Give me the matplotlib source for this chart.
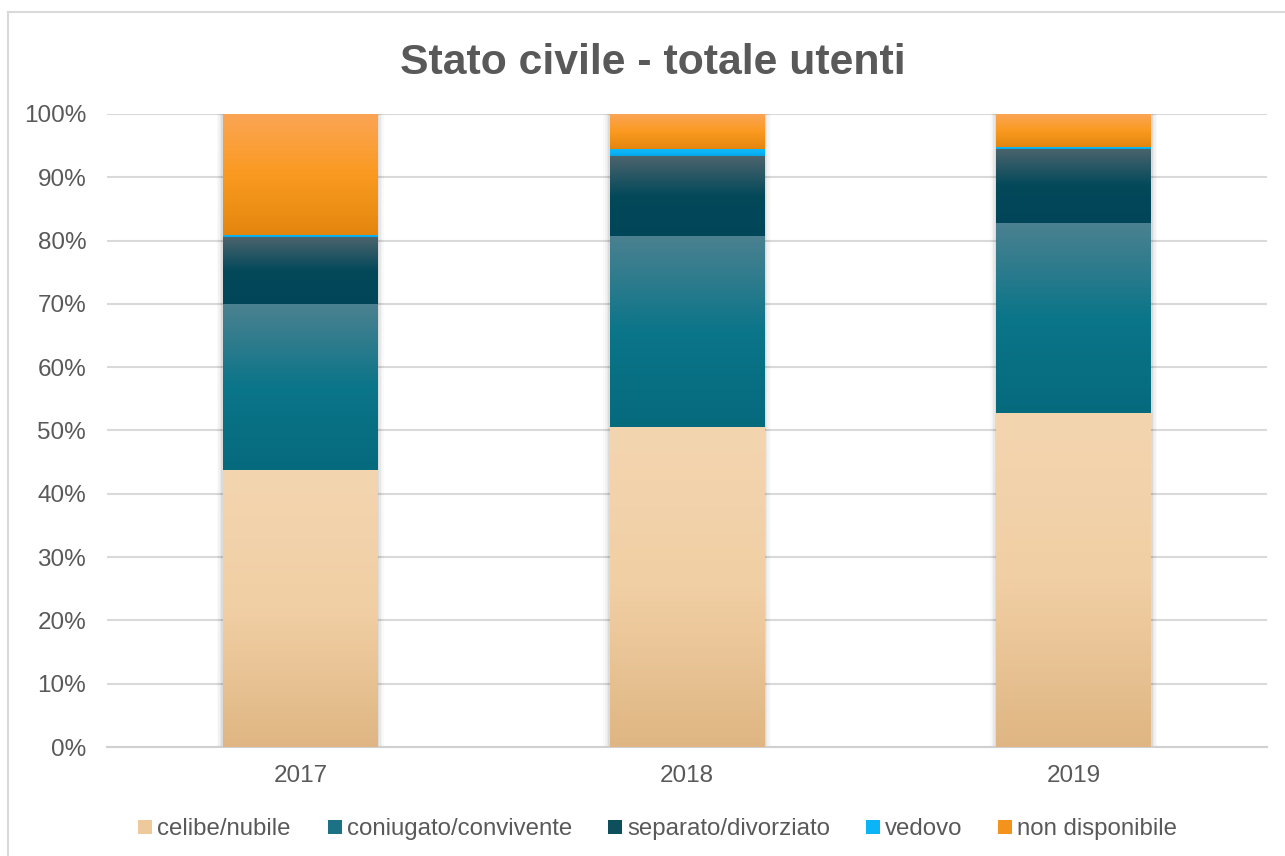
import numpy as np
import matplotlib.pyplot as plt
from matplotlib.colors import LinearSegmentedColormap
from matplotlib.patches import Rectangle
from matplotlib.lines import Line2D

plt.rcParams['font.family'] = ['Liberation Sans', 'DejaVu Sans']

# Data (shares of total users)
years = ['2017', '2018', '2019']
categories = ['celibe/nubile', 'coniugato/convivente', 'separato/divorziato', 'vedovo', 'non disponibile']
celibe = [43.8, 50.6, 52.8]
coniugato = [26.2, 30.2, 30.0]
separato = [10.5, 12.6, 11.7]
vedovo = [0.4, 1.1, 0.3]
non_disp = [19.1, 5.5, 5.2]
series = [celibe, coniugato, separato, vedovo, non_disp]

# Gradient stops (top, middle, bottom) for each category
gradients = [
    ['#F3D5B0', '#F1CFA4', '#DFB683'],
    ['#4B8190', '#0B7589', '#066A7D'],
    ['#4C646D', '#03495A', '#014559'],
    ['#12B8F8', '#0AB4F7', '#07A6E6'],
    ['#FBA555', '#FA9A20', '#E4860E'],
]
legend_colors = ['#EDC99C', '#1A7284', '#0E4F5E', '#0AB4F7', '#F4931C']

W, H = 1285, 856
fig = plt.figure(figsize=(W / 100, H / 100), dpi=100)
ax = fig.add_axes([107 / W, 1 - 747 / H, 1160 / W, 633 / H])

x = np.arange(len(years))
width = 0.40
bottom = np.zeros(len(years))

# soft shadow behind each bar
totals = np.sum(series, axis=0) / 100
for i in range(len(years)):
    for k, a in enumerate([0.05, 0.04, 0.03, 0.02]):
        pad = 0.004 * (k + 1)
        ax.add_patch(Rectangle((x[i] - width / 2 - pad, 0), width + 2 * pad, totals[i] + pad * 0.6,
                               facecolor='black', edgecolor='none', alpha=a, zorder=1))

for vals, stops in zip(series, gradients):
    v = np.array(vals) / 100
    bars = ax.bar(x, v, width, bottom=bottom, color='none', edgecolor='none', zorder=2)
    cmap = LinearSegmentedColormap.from_list('g', stops[::-1])
    grad = np.linspace(0, 1, 256).reshape(-1, 1)
    for b in bars:
        x0, y0 = b.get_x(), b.get_y()
        w, h = b.get_width(), b.get_height()
        im = ax.imshow(grad, cmap=cmap, origin='lower', aspect='auto',
                       extent=[x0, x0 + w, y0, y0 + h], zorder=3, interpolation='bilinear')
        im.set_clip_path(b)
    bottom += v

ax.set_xlim(-0.5, 2.5)
ax.set_ylim(0, 1)
ticks = np.arange(0, 1.01, 0.1)
ax.set_yticks(ticks)
ax.set_yticklabels([f'{int(round(t * 100))}%' for t in ticks])
ax.set_xticks(x)
ax.set_xticklabels(years)
ax.tick_params(axis='both', length=0, labelsize=17.5, labelcolor='#595959')
ax.tick_params(axis='y', pad=15)
ax.tick_params(axis='x', pad=13)
ax.grid(axis='y', color='#D9D9D9', linewidth=1.5, zorder=0)
ax.set_axisbelow(True)
for s in ['top', 'right', 'left']:
    ax.spines[s].set_visible(False)
ax.spines['bottom'].set_color('#D0D0D0')
ax.spines['bottom'].set_linewidth(1.5)

fig.text(653 / W, 1 - 73.5 / H, 'Stato civile - totale utenti', ha='center', va='baseline',
         fontsize=30.8, fontweight='bold', color='#595959')

# legend drawn by hand: square + label
legend_x = [138, 328, 608, 866, 998]
for lx, c, lab in zip(legend_x, legend_colors, categories):
    fig.add_artist(Rectangle((lx / W, 1 - 834 / H), 14 / W, 14 / H, facecolor=c,
                             edgecolor='none', transform=fig.transFigure))
    fig.text((lx + 19) / W, 1 - 835 / H, lab, ha='left', va='baseline',
             fontsize=17.3, color='#595959')

# chart outline (left and top edges visible)
fig.add_artist(Line2D([8 / W, 8 / W], [0, 1 - 12 / H], color='#D9D9D9', linewidth=1.5))
fig.add_artist(Line2D([8 / W, 1], [1 - 12 / H, 1 - 12 / H], color='#D9D9D9', linewidth=1.5))

fig.savefig('out.png', dpi=100)
